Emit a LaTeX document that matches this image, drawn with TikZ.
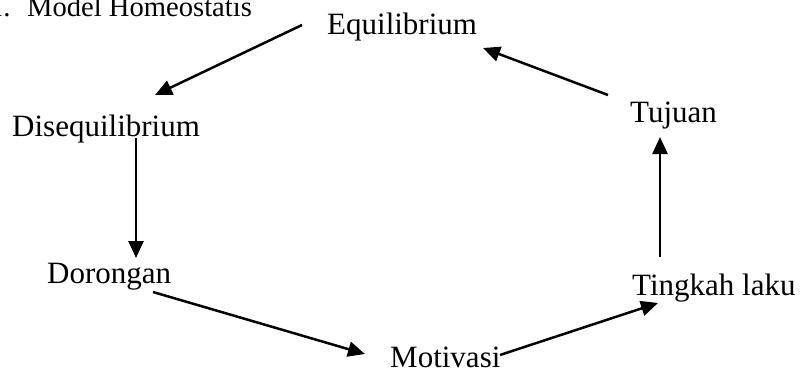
\documentclass[tikz,border=0pt]{standalone}
\usepackage{fontspec}
\setmainfont{Liberation Serif}
\usetikzlibrary{arrows.meta}
\begin{document}
\begin{tikzpicture}[x=1pt,y=-1pt,
  label/.style={inner sep=0pt,anchor=base west,font=\fontsize{31}{36}\selectfont},
  heading/.style={inner sep=0pt,anchor=base west,font=\fontsize{28.6}{34}\selectfont},
  flow/.style={line width=2.5pt,-{Triangle[length=17pt,width=15pt]}}]
\useasboundingbox (0,0) rectangle (803,370);
% heading, partly outside the page
\node[heading] (title) at (-11,16) {1.\hspace{16.5pt}Model Homeostatis};
% states of the cycle
\node[label] (eq)   at (327,34)  {Equilibrium};
\node[label] (dis)  at (12,136)  {Disequilibrium};
\node[label] (dor)  at (47,283)  {Dorongan};
\node[label] (mot)  at (390,367) {Motivasi};
\node[label] (ting) at (632,295) {Tingkah laku};
\node[label] (tuj)  at (630,122) {Tujuan};
% cycle arrows
\draw[flow] ([shift={(-25,-9)}]eq.base west)   -- ([shift={(143,-41)}]dis.base west);
\draw[flow] ([shift={(124,2)}]dis.base west)   -- ([shift={(89,-25)}]dor.base west);
\draw[flow] ([shift={(106,9)}]dor.base west)   -- ([shift={(-25,-13)}]mot.base west);
\draw[flow] ([shift={(110,-12)}]mot.base west) -- ([shift={(26,8)}]ting.base west);
\draw[flow] ([shift={(28,-38)}]ting.base west) -- ([shift={(30,15)}]tuj.base west);
\draw[flow] ([shift={(-22,-27)}]tuj.base west) -- ([shift={(156,14)}]eq.base west);
\end{tikzpicture}
\end{document}
